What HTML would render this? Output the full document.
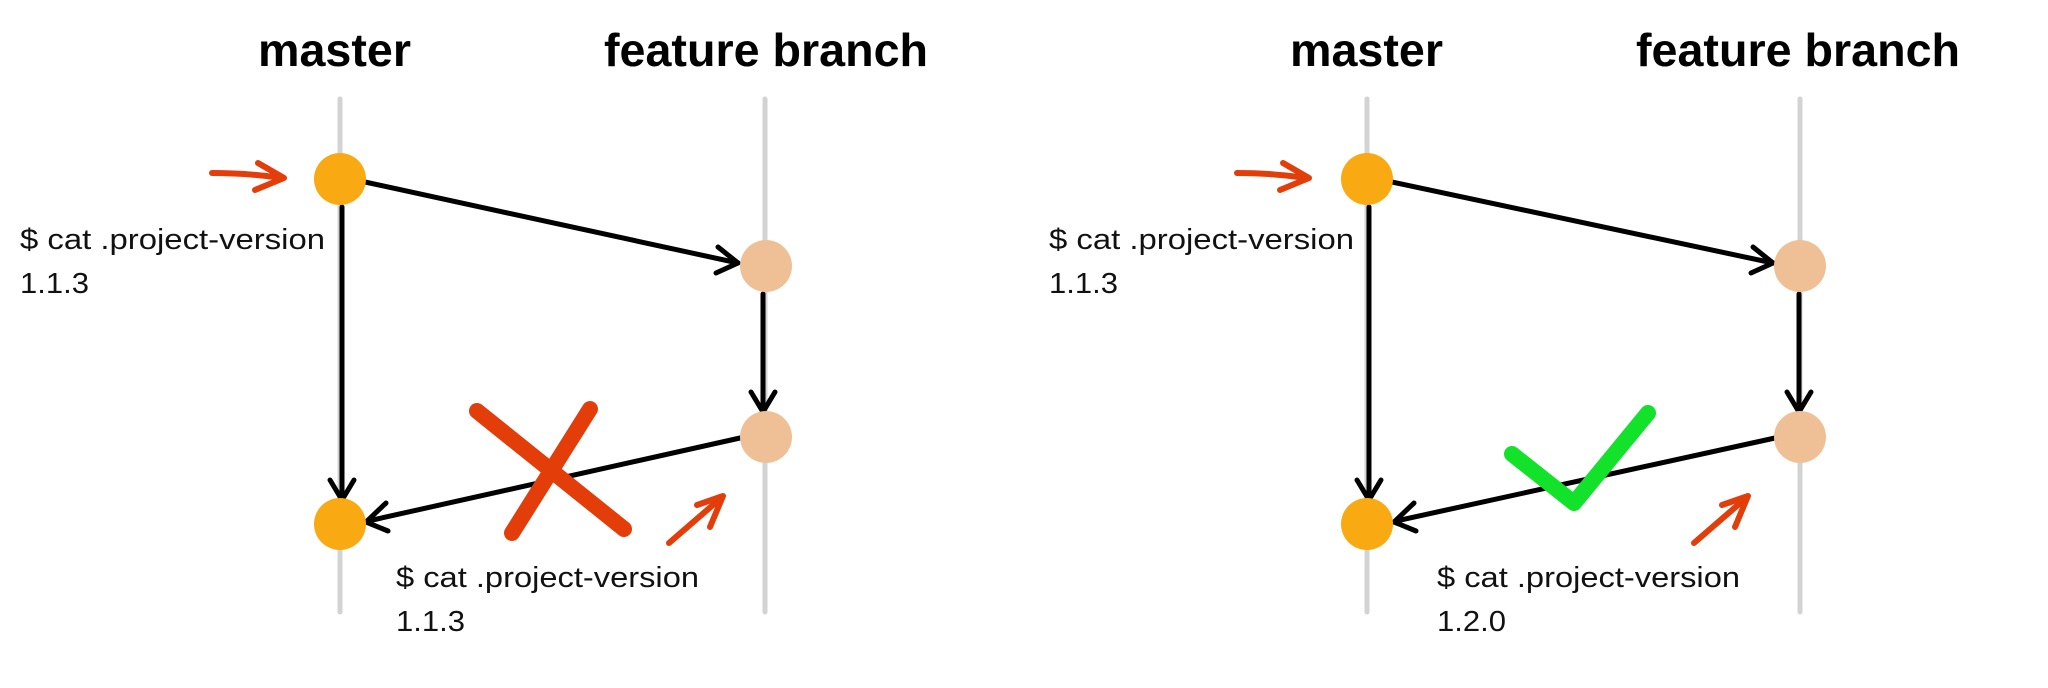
<!DOCTYPE html>
<html><head><meta charset="utf-8"><style>
html,body{margin:0;padding:0;background:#fff;}
svg{display:block;}
.t{font-family:"Liberation Sans",sans-serif;font-weight:bold;font-size:46px;fill:#000;}
.s{font-family:"Liberation Sans",sans-serif;font-size:29px;fill:#111;}
</style></head><body>
<svg width="2048" height="688" viewBox="0 0 2048 688" xmlns="http://www.w3.org/2000/svg">
<g id="L">
  <text class="t" x="258" y="66" textLength="153" lengthAdjust="spacingAndGlyphs">master</text>
  <text class="t" x="604" y="66" textLength="324" lengthAdjust="spacingAndGlyphs">feature branch</text>
  <line x1="340" y1="99" x2="340" y2="612" stroke="#d3d3d3" stroke-width="5" stroke-linecap="round"/>
  <line x1="765" y1="99" x2="765" y2="612" stroke="#d3d3d3" stroke-width="5" stroke-linecap="round"/>
  <g stroke="#000" stroke-width="5" fill="none" stroke-linecap="round" stroke-linejoin="round">
    <line x1="365" y1="182" x2="738" y2="263"/>
    <polyline points="718,247 738,263 716,273"/>
    <line x1="342" y1="207" x2="342" y2="498"/>
    <polyline points="330,480 342,500 354,480"/>
    <line x1="763" y1="294" x2="763" y2="410"/>
    <polyline points="751,392 763,412 775,392"/>
    <line x1="740" y1="438" x2="368" y2="521"/>
    <polyline points="386,503 366,522 388,531"/>
  </g>
  <circle cx="340" cy="179" r="26" fill="#f9a911"/>
  <circle cx="766" cy="266" r="26" fill="#efc095"/>
  <circle cx="766" cy="437" r="26" fill="#efc095"/>
  <circle cx="340" cy="524" r="26" fill="#f9a911"/>
  <g stroke="#e33d0a" stroke-linecap="round" fill="none">
    <line x1="477" y1="411" x2="624" y2="529" stroke-width="16"/>
    <line x1="590" y1="409" x2="512" y2="533" stroke-width="16"/>
    <path d="M212,173 Q248,173 282,178" stroke-width="6"/>
    <polyline points="258,163 284,178 255,190" stroke-width="6" stroke-linejoin="round"/>
    <line x1="669" y1="543" x2="721" y2="498" stroke-width="6"/>
    <polyline points="697,505 723,496 710,527" stroke-width="6" stroke-linejoin="round"/>
  </g>
  <text class="s" x="20" y="249" textLength="305" lengthAdjust="spacingAndGlyphs">$ cat .project-version</text>
  <text class="s" x="20" y="293" textLength="69" lengthAdjust="spacingAndGlyphs">1.1.3</text>
  <text class="s" x="396" y="587" textLength="303" lengthAdjust="spacingAndGlyphs">$ cat .project-version</text>
  <text class="s" x="396" y="631" textLength="69" lengthAdjust="spacingAndGlyphs">1.1.3</text>
</g>
<g id="R">
  <text class="t" x="1290" y="66" textLength="153" lengthAdjust="spacingAndGlyphs">master</text>
  <text class="t" x="1636" y="66" textLength="324" lengthAdjust="spacingAndGlyphs">feature branch</text>
  <line x1="1367" y1="99" x2="1367" y2="612" stroke="#d3d3d3" stroke-width="5" stroke-linecap="round"/>
  <line x1="1800" y1="99" x2="1800" y2="612" stroke="#d3d3d3" stroke-width="5" stroke-linecap="round"/>
  <g stroke="#000" stroke-width="5" fill="none" stroke-linecap="round" stroke-linejoin="round">
    <line x1="1392" y1="182" x2="1773" y2="263"/>
    <polyline points="1753,247 1773,263 1751,273"/>
    <line x1="1369" y1="207" x2="1369" y2="498"/>
    <polyline points="1357,480 1369,500 1381,480"/>
    <line x1="1799" y1="294" x2="1799" y2="410"/>
    <polyline points="1787,392 1799,412 1811,392"/>
    <line x1="1775" y1="438" x2="1396" y2="521"/>
    <polyline points="1414,503 1394,522 1416,531"/>
  </g>
  <circle cx="1367" cy="179" r="26" fill="#f9a911"/>
  <circle cx="1800" cy="266" r="26" fill="#efc095"/>
  <circle cx="1800" cy="437" r="26" fill="#efc095"/>
  <circle cx="1367" cy="524" r="26" fill="#f9a911"/>
  <polyline points="1512,454 1574,503 1648,413" stroke="#13e22a" stroke-width="16" fill="none" stroke-linecap="round" stroke-linejoin="round"/>
  <g stroke="#e33d0a" stroke-linecap="round" fill="none" stroke-width="6" stroke-linejoin="round">
    <path d="M1237,173 Q1273,173 1307,178"/>
    <polyline points="1283,163 1309,178 1280,190"/>
    <line x1="1694" y1="543" x2="1746" y2="498"/>
    <polyline points="1722,505 1748,496 1735,527"/>
  </g>
  <text class="s" x="1049" y="249" textLength="305" lengthAdjust="spacingAndGlyphs">$ cat .project-version</text>
  <text class="s" x="1049" y="293" textLength="69" lengthAdjust="spacingAndGlyphs">1.1.3</text>
  <text class="s" x="1437" y="587" textLength="303" lengthAdjust="spacingAndGlyphs">$ cat .project-version</text>
  <text class="s" x="1437" y="631" textLength="69" lengthAdjust="spacingAndGlyphs">1.2.0</text>
</g>
</svg>
</body></html>
